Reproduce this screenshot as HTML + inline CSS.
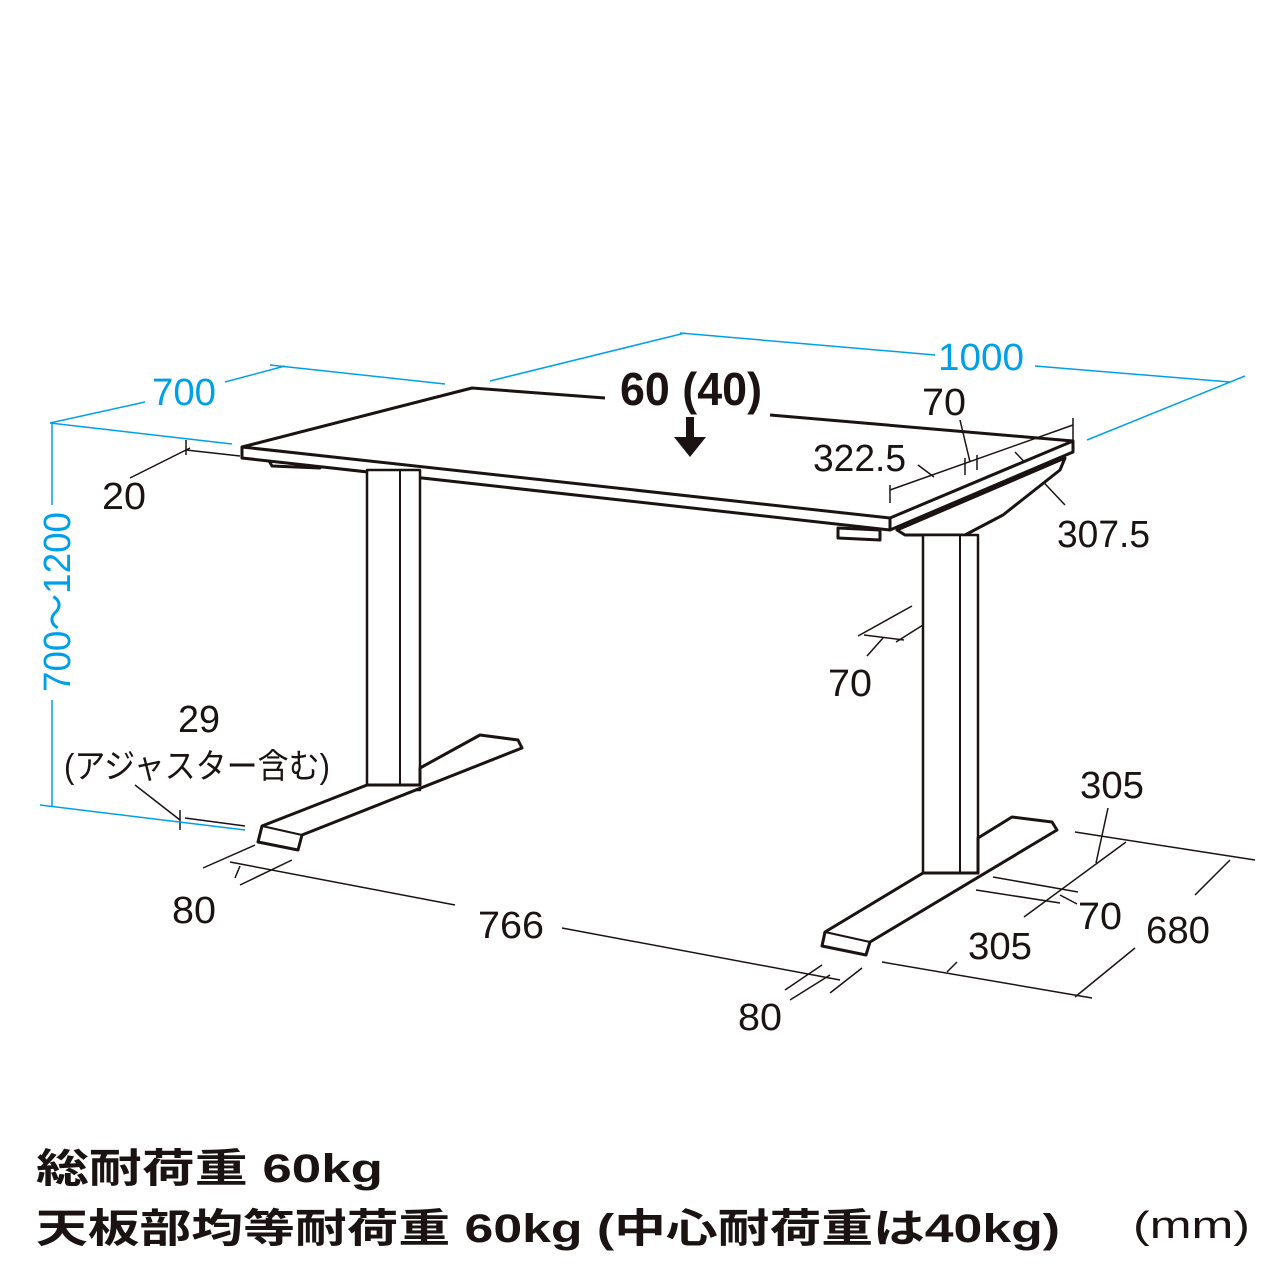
<!DOCTYPE html>
<html><head><meta charset="utf-8"><style>
body{margin:0;background:#fff;width:1280px;height:1280px;overflow:hidden}
svg{position:absolute;left:0;top:0}
.t{font-family:"Liberation Sans","Noto Sans CJK JP",sans-serif;}
</style></head><body>
<svg width="1280" height="1280" viewBox="0 0 1280 1280" xmlns="http://www.w3.org/2000/svg">
<g fill="none" stroke="#1a1311" stroke-width="1.5">
<line x1="190" y1="448" x2="130" y2="478"/><line x1="186" y1="440" x2="186" y2="455"/><line x1="186" y1="450" x2="240" y2="456"/>
<line x1="890" y1="490" x2="1073" y2="425"/><line x1="890" y1="485" x2="890" y2="503"/><line x1="1073" y1="418" x2="1073" y2="440"/>
<line x1="965" y1="458" x2="965" y2="475"/><line x1="977" y1="455" x2="977" y2="470"/><line x1="970" y1="462" x2="960" y2="420"/>
<line x1="918" y1="465" x2="934" y2="477"/><line x1="1015" y1="452" x2="1065" y2="505"/>
<line x1="858" y1="636" x2="912" y2="606"/><line x1="896" y1="642" x2="950" y2="608"/><line x1="864" y1="635" x2="904" y2="640"/><line x1="883" y1="638" x2="867" y2="656"/>
<line x1="135" y1="785" x2="180" y2="820"/><line x1="180" y1="810" x2="180" y2="830"/><line x1="185" y1="818" x2="245" y2="826"/>
<line x1="203" y1="868" x2="255" y2="845"/><line x1="240" y1="885" x2="292" y2="860"/><line x1="240" y1="866" x2="235" y2="878"/>
<line x1="230" y1="862" x2="455" y2="905"/><line x1="562" y1="928" x2="840" y2="980"/>
<line x1="785" y1="990" x2="822" y2="965"/><line x1="790" y1="1000" x2="830" y2="975"/><line x1="830" y1="993" x2="862" y2="968"/>
<line x1="1075" y1="832" x2="1255" y2="860"/><line x1="1230" y1="860" x2="1195" y2="895"/>
<line x1="882" y1="962" x2="1092" y2="998"/><line x1="1135" y1="948" x2="1075" y2="997"/><line x1="947" y1="972" x2="957" y2="962"/>
<line x1="1024" y1="917" x2="1126" y2="842"/><line x1="1108" y1="808" x2="1096" y2="863"/>
<line x1="993" y1="877" x2="1078" y2="892"/><line x1="976" y1="890" x2="1060" y2="903"/><line x1="1060" y1="895" x2="1077" y2="904"/>
</g>
<g fill="none" stroke="#00a0e9" stroke-width="1.5">
<line x1="50" y1="423" x2="145" y2="402"/><line x1="225" y1="382" x2="285" y2="366"/><line x1="270" y1="365" x2="445" y2="384"/>
<line x1="50" y1="423" x2="232" y2="444"/>
<line x1="490" y1="381" x2="685" y2="333"/><line x1="680" y1="333" x2="935" y2="355"/><line x1="1035" y1="366" x2="1230" y2="382"/>
<line x1="1087" y1="440" x2="1245" y2="376"/>
<line x1="52" y1="423" x2="52" y2="505"/><line x1="52" y1="700" x2="52" y2="806"/>
<line x1="40" y1="805" x2="245" y2="830"/>
</g>
<g fill="#fff" stroke="#1a1311" stroke-width="3" stroke-linejoin="round">
<polygon points="268,459 300,462 320,468 272,466"/>
<polygon points="897,530 1065,458 1060,470 1003,515 965,535 905,535"/>
<polygon points="838,528 880,530 880,540 838,538"/>
<polygon points="242,447 890,518 890,530 242,458"/>
<polygon points="890,518 1073,441 1073,452 890,530"/>
<polyline points="242,447 472,388 605,398" fill="none"/>
<polyline points="770,415 1073,441" fill="none"/>
<rect x="367" y="470" width="53" height="320" stroke-width="2.5"/>
<line x1="400" y1="470" x2="400" y2="790" stroke-width="2"/>
<polygon points="367,785 262,826 258,842 298,850 302,835 522,748 518,740 480,735 420,768 420,785"/>
<line x1="262" y1="826" x2="302" y2="835" stroke-width="2"/>
<rect x="923" y="535" width="55" height="340" stroke-width="2.5"/>
<line x1="960" y1="535" x2="960" y2="875" stroke-width="2"/>
<polygon points="923,873 825,932 822,946 866,955 870,942 1057,830 1052,822 1012,817 978,838 978,873"/>
<line x1="825" y1="932" x2="870" y2="942" stroke-width="2"/>
</g>
<polygon points="686,417 694,417 694,437 706,437 690,457 674,437 686,437" fill="#1a1311"/>
<g class="t" fill="#1a1311" font-size="38">
<text x="620" y="405" font-size="46" font-weight="bold" textLength="142" lengthAdjust="spacingAndGlyphs">60 (40)</text>
<text x="922" y="415" textLength="44" lengthAdjust="spacingAndGlyphs">70</text>
<text x="813" y="471" textLength="93" lengthAdjust="spacingAndGlyphs">322.5</text>
<text x="1057" y="547" textLength="93" lengthAdjust="spacingAndGlyphs">307.5</text>
<text x="102" y="509" textLength="44" lengthAdjust="spacingAndGlyphs">20</text>
<text x="828" y="696" textLength="44" lengthAdjust="spacingAndGlyphs">70</text>
<text x="178" y="732" textLength="42" lengthAdjust="spacingAndGlyphs">29</text>
<text x="64" y="778" font-size="34" textLength="266" lengthAdjust="spacingAndGlyphs">(アジャスター含む)</text>
<text x="172" y="923" textLength="44" lengthAdjust="spacingAndGlyphs">80</text>
<text x="478" y="938" textLength="66" lengthAdjust="spacingAndGlyphs">766</text>
<text x="738" y="1030" textLength="44" lengthAdjust="spacingAndGlyphs">80</text>
<text x="1080" y="798" textLength="64" lengthAdjust="spacingAndGlyphs">305</text>
<text x="1078" y="929" textLength="44" lengthAdjust="spacingAndGlyphs">70</text>
<text x="968" y="959" textLength="64" lengthAdjust="spacingAndGlyphs">305</text>
<text x="1146" y="943" textLength="64" lengthAdjust="spacingAndGlyphs">680</text>
</g>
<g class="t" fill="#00a0e9" font-size="38">
<text x="152" y="405" textLength="64" lengthAdjust="spacingAndGlyphs">700</text>
<text x="938" y="370" textLength="86" lengthAdjust="spacingAndGlyphs">1000</text>
<text transform="translate(70,692) rotate(-90)" textLength="180" lengthAdjust="spacingAndGlyphs">700〜1200</text>
</g>
<g class="t" fill="#1a1311" font-size="40" font-weight="bold">
<text x="36" y="1182" textLength="347" lengthAdjust="spacingAndGlyphs">総耐荷重 60kg</text>
<text x="36" y="1242" textLength="1024" lengthAdjust="spacingAndGlyphs">天板部均等耐荷重 60kg (中心耐荷重は40kg)</text>
<text x="1133" y="1238" font-weight="normal" font-size="38" textLength="117" lengthAdjust="spacingAndGlyphs">(mm)</text>
</g>
</svg>
</body></html>
